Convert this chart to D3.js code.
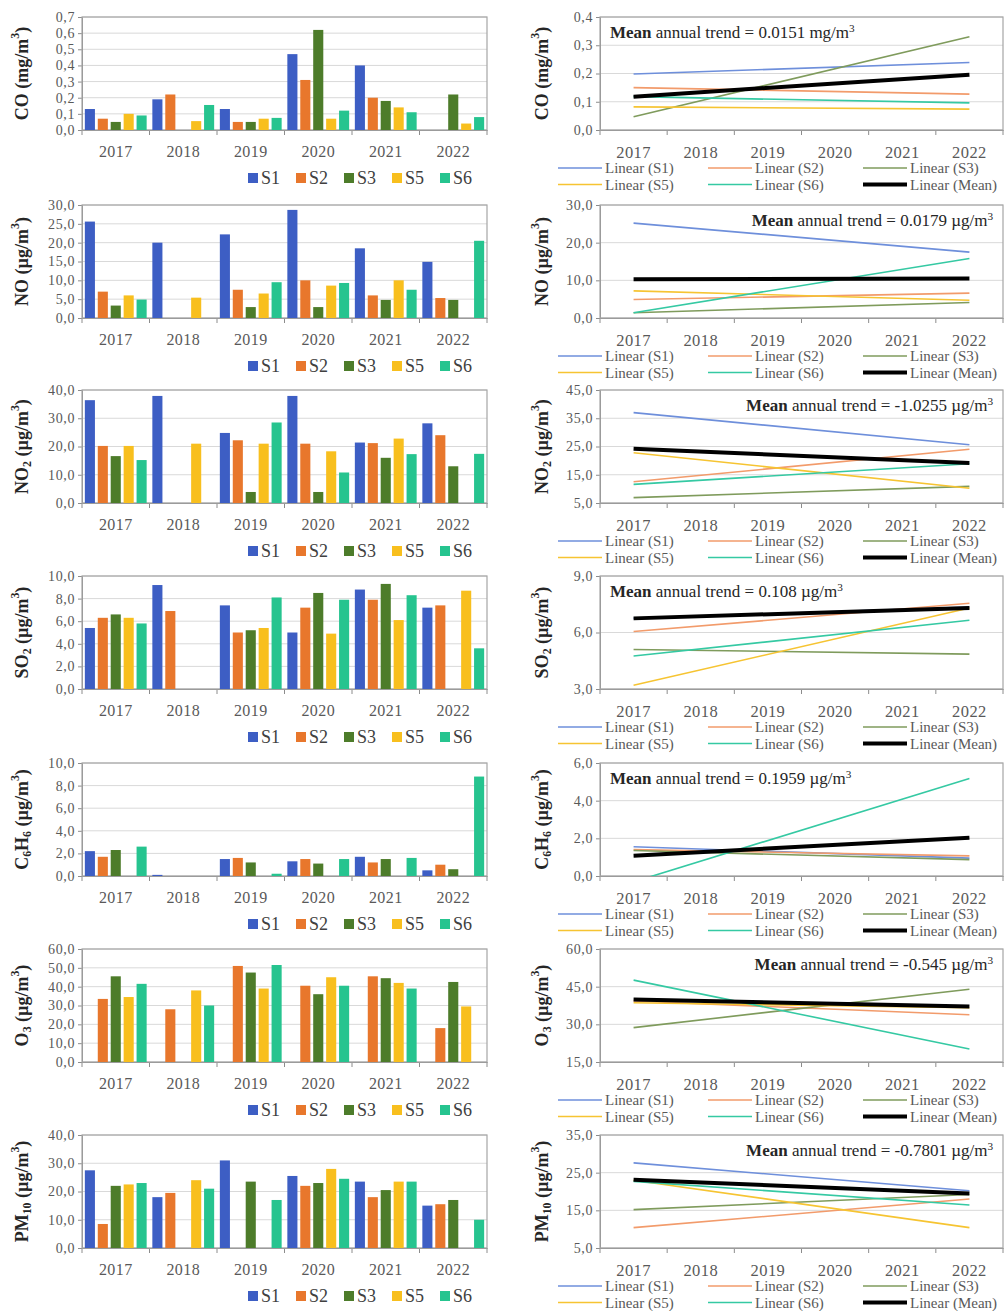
<!DOCTYPE html>
<html><head><meta charset="utf-8">
<script src="https://cdn.jsdelivr.net/npm/d3@7"></script>
<style>
body{margin:0;background:#fff}
svg text{font-family:"Liberation Serif","Times New Roman",serif !important}
</style>
</head><body>
<svg id="chart" width="1006" height="1311" font-family="Liberation Serif, serif"></svg>
<script>
// ---------- DATA ----------
const years = ["2017","2018","2019","2020","2021","2022"];
const stations = ["S1","S2","S3","S5","S6"];
const trendKeys = ["S1","S2","S3","S5","S6","Mean"];

// Bar values per station, 2017..2022 (null = no data)
const coBars   = {S1:[0.13,0.19,0.13,0.47,0.40,null], S2:[0.07,0.22,0.05,0.31,0.20,null], S3:[0.05,null,0.05,0.62,0.18,0.22], S5:[0.10,0.055,0.07,0.07,0.14,0.04], S6:[0.09,0.155,0.075,0.12,0.11,0.08]};
const noBars   = {S1:[25.6,20.0,22.2,28.7,18.5,14.9], S2:[7.0,null,7.5,10.0,6.0,5.3], S3:[3.3,null,2.9,2.9,4.8,4.8], S5:[6.0,5.4,6.5,8.6,10.0,null], S6:[4.9,null,9.5,9.3,7.5,20.5]};
const no2Bars  = {S1:[36.4,37.9,24.8,37.9,21.4,28.2], S2:[20.2,null,22.2,21.0,21.2,24.0], S3:[16.6,null,3.9,3.9,16.0,13.0], S5:[20.2,21.0,21.0,18.3,22.8,null], S6:[15.2,null,28.5,10.8,17.3,17.4]};
const so2Bars  = {S1:[5.4,9.2,7.4,5.0,8.8,7.2], S2:[6.3,6.9,5.0,7.2,7.9,7.4], S3:[6.6,null,5.2,8.5,9.3,null], S5:[6.3,null,5.4,4.9,6.1,8.7], S6:[5.8,null,8.1,7.9,8.3,3.6]};
const c6h6Bars = {S1:[2.2,0.1,1.5,1.3,1.7,0.5], S2:[1.7,null,1.6,1.5,1.2,1.0], S3:[2.3,null,1.2,1.1,1.5,0.6], S5:[null,null,null,null,null,null], S6:[2.6,null,0.2,1.5,1.6,8.8]};
const o3Bars   = {S1:[null,null,null,null,null,null], S2:[33.5,28.0,51.0,40.5,45.5,18.0], S3:[45.5,null,47.5,36.0,44.5,42.5], S5:[34.5,38.0,39.0,45.0,42.0,29.5], S6:[41.5,30.0,51.5,40.5,39.0,null]};
const pm10Bars = {S1:[27.5,18.0,31.0,25.5,23.5,15.0], S2:[8.5,19.5,null,22.0,18.0,15.5], S3:[22.0,null,23.5,23.0,20.5,17.0], S5:[22.5,24.0,null,28.0,23.5,null], S6:[23.0,21.0,17.0,24.5,23.5,10.0]};

// Linear trend lines: [value at 2017, value at 2022]
const coTrend   = {S1:[0.198,0.239], S2:[0.150,0.127], S3:[0.047,0.330], S5:[0.082,0.074], S6:[0.118,0.096], Mean:[0.118,0.196]};
const noTrend   = {S1:[25.2,17.5], S2:[4.9,6.6], S3:[1.4,4.1], S5:[7.2,4.7], S6:[1.4,15.8], Mean:[10.3,10.5]};
const no2Trend  = {S1:[37.0,25.6], S2:[12.5,24.0], S3:[6.9,10.9], S5:[22.8,10.2], S6:[11.6,18.9], Mean:[24.2,19.2]};
const so2Trend  = {S1:[6.75,7.35], S2:[6.05,7.55], S3:[5.1,4.85], S5:[3.2,7.3], S6:[4.75,6.65], Mean:[6.75,7.3]};
const c6h6Trend = {S1:[1.55,0.95], S2:[1.4,1.07], S3:[1.35,0.87], S5:null, S6:[-0.31,5.18], Mean:[1.08,2.03]};
const o3Trend   = {S1:null, S2:[39.3,33.8], S3:[28.7,44.0], S5:[38.6,36.6], S6:[47.6,20.2], Mean:[39.9,37.1]};
const pm10Trend = {S1:[27.6,20.2], S2:[10.4,18.0], S3:[15.2,19.2], S5:[23.0,10.4], S6:[22.7,16.4], Mean:[23.1,19.5]};

// Axis ticks
const coBarTicks   = [0,0.1,0.2,0.3,0.4,0.5,0.6,0.7];
const noBarTicks   = [0,5,10,15,20,25,30];
const no2BarTicks  = [0,10,20,30,40];
const so2BarTicks  = [0,2,4,6,8,10];
const c6h6BarTicks = [0,2,4,6,8,10];
const o3BarTicks   = [0,10,20,30,40,50,60];
const pm10BarTicks = [0,10,20,30,40];
const coTrendTicks   = [0,0.1,0.2,0.3,0.4];
const noTrendTicks   = [0,10,20,30];
const no2TrendTicks  = [5,15,25,35,45];
const so2TrendTicks  = [3,6,9];
const c6h6TrendTicks = [0,2,4,6];
const o3TrendTicks   = [15,30,45,60];
const pm10TrendTicks = [5,15,25,35];

// Titles (text parts; "sub"/"sup" mark sub- and superscripts)
const coTitle   = [["CO"],[" (mg/m"],["3","sup"],[")"]];
const noTitle   = [["NO"],[" (µg/m"],["3","sup"],[")"]];
const no2Title  = [["NO"],["2","sub"],[" (µg/m"],["3","sup"],[")"]];
const so2Title  = [["SO"],["2","sub"],[" (µg/m"],["3","sup"],[")"]];
const c6h6Title = [["C"],["6","sub"],["H"],["6","sub"],[" (µg/m"],["3","sup"],[")"]];
const o3Title   = [["O"],["3","sub"],[" (µg/m"],["3","sup"],[")"]];
const pm10Title = [["PM"],["10","sub"],[" (µg/m"],["3","sup"],[")"]];

const trendNotes = ["0.0151 mg/m","0.0179 µg/m","-1.0255 µg/m","0.108 µg/m","0.1959 µg/m","-0.545 µg/m","-0.7801 µg/m"];
const noteAlign  = ["start","end","end","start","start","end","end"];

const barColors  = {S1:"#3d5ec4",S2:"#e8772c",S3:"#4d7c2a",S5:"#f8bf1e",S6:"#26c48f"};
const lineColors = {S1:"#6e8fdb",S2:"#f29b6b",S3:"#7f9b5c",S5:"#f6c432",S6:"#35c9a3",Mean:"#000000"};

// ---------- LAYOUT ----------
const panels = [
  {title:coTitle,   bars:coBars,   bt:coBarTicks,   trend:coTrend,   tt:coTrendTicks},
  {title:noTitle,   bars:noBars,   bt:noBarTicks,   trend:noTrend,   tt:noTrendTicks},
  {title:no2Title,  bars:no2Bars,  bt:no2BarTicks,  trend:no2Trend,  tt:no2TrendTicks},
  {title:so2Title,  bars:so2Bars,  bt:so2BarTicks,  trend:so2Trend,  tt:so2TrendTicks},
  {title:c6h6Title, bars:c6h6Bars, bt:c6h6BarTicks, trend:c6h6Trend, tt:c6h6TrendTicks},
  {title:o3Title,   bars:o3Bars,   bt:o3BarTicks,   trend:o3Trend,   tt:o3TrendTicks},
  {title:pm10Title, bars:pm10Bars, bt:pm10BarTicks, trend:pm10Trend, tt:pm10TrendTicks}
];
const tops = [17,205,390,576,763,949,1135];
const PH = 113;
const L = {x0:82, x1:487, titleX:22};
const R = {x0:600, x1:1003, titleX:542};
const SERIF = "'Liberation Serif', 'Times New Roman', serif";

const svg = d3.select("#chart");
const fmt = v => d3.format(".1f")(v).replace(".", ",");
const tickColor = "#595959";

function rich(textSel, parts, size) {
  let shift = 0;
  parts.forEach(([t, kind]) => {
    const target = kind === "sup" ? -size*0.38 : kind === "sub" ? size*0.28 : 0;
    const ts = textSel.append("tspan").text(t).attr("dy", target - shift);
    if (kind) ts.attr("font-size", size*0.66);
    shift = target;
  });
}

function frame(g, P, top, ticks, xBand, yScale, tickFont, yearFont) {
  g.append("g").selectAll("line").data(ticks).join("line")
    .attr("x1", P.x0).attr("x2", P.x1)
    .attr("y1", d => yScale(d)).attr("y2", d => yScale(d))
    .attr("stroke", "#d9d9d9").attr("stroke-width", 1);
  const ya = g.append("g").attr("transform", `translate(${P.x0},0)`)
    .call(d3.axisLeft(yScale).tickValues(ticks).tickFormat(fmt).tickSize(4).tickPadding(3));
  ya.attr("font-family", null);
  ya.select(".domain").attr("stroke", "#8c8c8c");
  ya.selectAll(".tick line").attr("stroke", "#8c8c8c");
  ya.selectAll("text").attr("font-size", tickFont).attr("fill", tickColor)
    .style("font-family", SERIF).attr("letter-spacing", 0.6);
  const xa = g.append("g").attr("transform", `translate(0,${top+PH})`)
    .call(d3.axisBottom(xBand).tickSize(0));
  xa.attr("font-family", null);
  xa.select(".domain").attr("stroke", "#8c8c8c");
  xa.selectAll("text").attr("font-size", yearFont).attr("fill", tickColor)
    .style("font-family", SERIF).attr("y", 16).attr("dy", "0.71em")
    .attr("letter-spacing", 0.4);
  const bounds = d3.range(years.length + 1).map(i => xBand.range()[0] + i*xBand.step());
  g.append("g").selectAll("line").data(bounds).join("line")
    .attr("x1", d => d).attr("x2", d => d)
    .attr("y1", top+PH).attr("y2", top+PH+5)
    .attr("stroke", "#8c8c8c");
  g.append("rect").attr("x", P.x0).attr("y", top).attr("width", P.x1-P.x0).attr("height", PH)
    .attr("fill", "none").attr("stroke", "#a6a6a6").attr("stroke-width", 1.2);
}

function yTitle(g, P, top, parts) {
  const t = g.append("text")
    .attr("transform", `translate(${P.titleX},${top+PH/2}) rotate(-90)`)
    .attr("text-anchor", "middle").attr("dominant-baseline", "central")
    .attr("font-size", 18).attr("font-weight", "bold").attr("fill", "#262626")
    .style("font-family", SERIF);
  rich(t, parts, 18);
}

panels.forEach((p, i) => {
  const top = tops[i];

  // ----- left: bar chart -----
  const gl = svg.append("g");
  const xL = d3.scaleBand().domain(years).range([L.x0, L.x1]);
  const xs = d3.scaleBand().domain(stations).range([0, xL.bandwidth()]).paddingInner(0.22).paddingOuter(0.22);
  const yL = d3.scaleLinear().domain([p.bt[0], p.bt[p.bt.length-1]]).range([top+PH, top]);
  frame(gl, L, top, p.bt, xL, yL, 14, 16);
  const barData = [];
  stations.forEach(s => p.bars[s].forEach((v, yi) => { if (v != null) barData.push({s, year: years[yi], v}); }));
  gl.append("g").selectAll("rect").data(barData).join("rect")
    .attr("x", d => xL(d.year) + xs(d.s))
    .attr("width", xs.bandwidth())
    .attr("y", d => yL(d.v))
    .attr("height", d => yL(p.bt[0]) - yL(d.v))
    .attr("fill", d => barColors[d.s]);
  yTitle(gl, L, top, p.title);
  const lg = gl.append("g").attr("transform", `translate(248,${top+161})`);
  stations.forEach((s, k) => {
    const it = lg.append("g").attr("transform", `translate(${k*48},0)`);
    it.append("rect").attr("x", 0).attr("y", -5).attr("width", 10).attr("height", 10).attr("fill", barColors[s]);
    it.append("text").attr("x", 13).attr("y", 0).attr("dominant-baseline", "central")
      .attr("font-size", 18).attr("fill", "#404040").style("font-family", SERIF).text(s);
  });

  // ----- right: trend lines -----
  const gr = svg.append("g");
  const xR = d3.scaleBand().domain(years).range([R.x0, R.x1]);
  const yR = d3.scaleLinear().domain([p.tt[0], p.tt[p.tt.length-1]]).range([top+PH, top]);
  frame(gr, R, top, p.tt, xR, yR, 14, 16.5);
  const clipId = "clip" + i;
  gr.append("clipPath").attr("id", clipId).append("rect")
    .attr("x", R.x0).attr("y", top).attr("width", R.x1-R.x0).attr("height", PH);
  const lineGen = d3.line().x(d => xR(d[0]) + xR.bandwidth()/2).y(d => yR(d[1]));
  const lines = trendKeys.filter(k => p.trend[k]).map(k => ({k, pts: [[years[0], p.trend[k][0]], [years[years.length-1], p.trend[k][1]]]}));
  gr.append("g").attr("clip-path", `url(#${clipId})`).selectAll("path").data(lines).join("path")
    .attr("d", d => lineGen(d.pts))
    .attr("fill", "none")
    .attr("stroke", d => lineColors[d.k])
    .attr("stroke-width", d => d.k === "Mean" ? 4 : 1.6);
  yTitle(gr, R, top, p.title);
  const anchor = noteAlign[i];
  const note = gr.append("text")
    .attr("x", anchor === "start" ? 610 : 993).attr("y", top+21)
    .attr("text-anchor", anchor).attr("font-size", 17).attr("fill", "#262626")
    .style("font-family", SERIF);
  note.append("tspan").attr("font-weight", "bold").text("Mean");
  rich(note, [[" annual trend = " + trendNotes[i]], ["3","sup"]], 17);
  const colX = [558, 708, 863];
  trendKeys.forEach((k, j) => {
    const cx = colX[j % 3], cy = top + 151 + Math.floor(j/3)*16.5;
    gr.append("line").attr("x1", cx).attr("x2", cx+44).attr("y1", cy).attr("y2", cy)
      .attr("stroke", lineColors[k]).attr("stroke-width", k === "Mean" ? 4 : 1.6);
    gr.append("text").attr("x", cx+47).attr("y", cy).attr("dominant-baseline", "central")
      .attr("font-size", 15).attr("fill", "#595959").style("font-family", SERIF).text(`Linear (${k})`);
  });
});
</script>
</body></html>
